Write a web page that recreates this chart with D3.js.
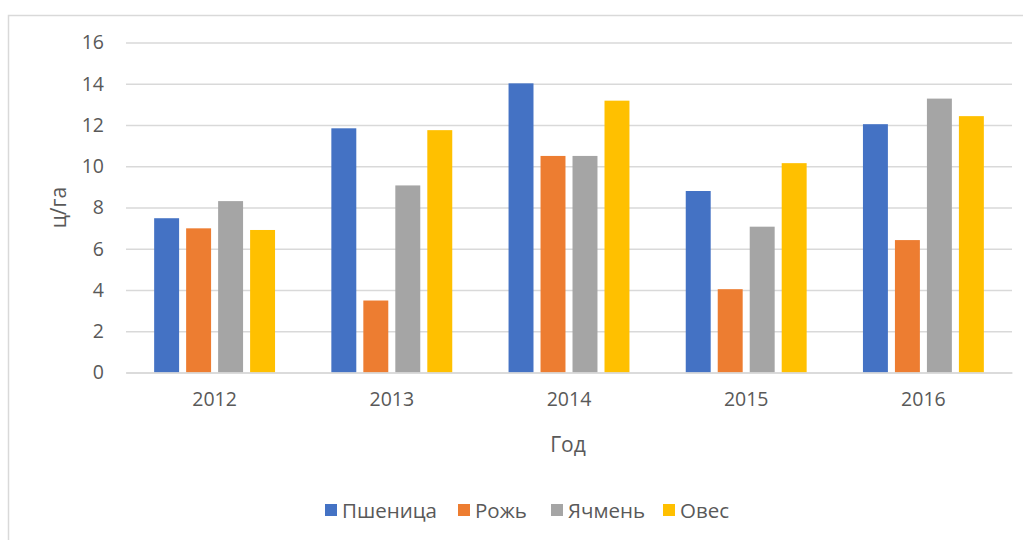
<!DOCTYPE html>
<html>
<head>
<meta charset="utf-8">
<script src="https://cdn.jsdelivr.net/npm/d3@7"></script>
<style>
  body { margin: 0; background: #fff; }
  text { font-family: "Open Sans", sans-serif; fill: #595959; }
</style>
</head>
<body>
<div id="container"></div>
<script>
/* DATA */
const years = ["2012", "2013", "2014", "2015", "2016"];
const seriesNames = ["Пшеница", "Рожь", "Ячмень", "Овес"];
const wheat  = [7.48, 11.84, 14.02, 8.8, 12.04];
const rye    = [6.99, 3.49, 10.5, 4.04, 6.42];
const barley = [8.31, 9.07, 10.5, 7.07, 13.28];
const oats   = [6.91, 11.75, 13.18, 10.15, 12.43];
const yTicks = [0, 2, 4, 6, 8, 10, 12, 14, 16];

const colors = ["#4472C4", "#ED7D31", "#A5A5A5", "#FFC000"];
const series = [wheat, rye, barley, oats];

/* CONSTANTS */
const width = 1023, height = 540,
      margin = {top: 42.5, left: 126, bottom: 167.5, right: 11};

const svg = d3.select("#container")
              .append("svg")
              .attr("width", width)
              .attr("height", height);

// chart frame
svg.append("rect")
   .attr("x", 8.5).attr("y", 15.5)
   .attr("width", width + 10).attr("height", height)
   .attr("fill", "none")
   .attr("stroke", "#d9d9d9")
   .attr("stroke-width", 1.5);

// SCALES
const xScale = d3.scaleBand()
                 .domain(years)
                 .range([margin.left, width - margin.right]);

const xInner = d3.scaleBand()
                 .domain(d3.range(seriesNames.length))
                 .range([0, xScale.bandwidth()])
                 .paddingInner(0.22)
                 .paddingOuter(0.88);

const yScale = d3.scaleLinear()
                 .domain([0, 16])
                 .range([height - margin.bottom, margin.top]);

// GRID + Y AXIS
const yAxis = d3.axisLeft(yScale)
                .tickValues(yTicks)
                .tickSize(-(width - margin.left - margin.right))
                .tickPadding(22);

svg.append("g")
   .attr("transform", `translate(${margin.left},0)`)
   .call(yAxis)
   .call(g => g.select(".domain").remove())
   .call(g => g.selectAll("line").attr("stroke", "#d9d9d9").attr("stroke-width", 1.5))
   .call(g => g.selectAll("text").attr("font-size", 19.5).attr("fill", "#595959")
                .style("font-family", "'Open Sans', sans-serif"));

// BARS
const groups = svg.selectAll("g.year")
   .data(years)
   .join("g")
   .attr("class", "year")
   .attr("transform", d => `translate(${xScale(d)},0)`);

groups.selectAll("rect")
   .data((d, i) => series.map((s, k) => ({k, v: s[i]})))
   .join("rect")
   .attr("x", d => xInner(d.k))
   .attr("width", xInner.bandwidth())
   .attr("y", d => yScale(d.v))
   .attr("height", d => yScale(0) - yScale(d.v))
   .attr("fill", d => colors[d.k]);

// X AXIS
const xAxis = d3.axisBottom(xScale).tickSize(0).tickPadding(20);
svg.append("g")
   .attr("transform", `translate(0,${height - margin.bottom})`)
   .call(xAxis)
   .call(g => g.select(".domain").attr("stroke", "#d9d9d9").attr("stroke-width", 1.5))
   .call(g => g.selectAll("text").attr("font-size", 19.5).attr("fill", "#595959")
                .style("font-family", "'Open Sans', sans-serif"));

// AXIS TITLES
svg.append("text")
   .attr("x", 568).attr("y", 452)
   .attr("text-anchor", "middle")
   .attr("font-size", 21)
   .text("Год");

svg.append("text")
   .attr("transform", `translate(66,${(yScale(0) + yScale(16)) / 2}) rotate(-90)`)
   .attr("text-anchor", "middle")
   .attr("font-size", 21)
   .text("ц/га");

// LEGEND
const legendX = [325, 458, 551, 663];
const legend = svg.selectAll("g.legend")
   .data(seriesNames)
   .join("g")
   .attr("class", "legend")
   .attr("transform", (d, i) => `translate(${legendX[i]},504)`);

legend.append("rect")
   .attr("width", 12).attr("height", 12)
   .attr("fill", (d, i) => colors[i]);

legend.append("text")
   .attr("x", 17).attr("y", 13.5)
   .attr("font-size", 20.5)
   .text(d => d);
</script>
</body>
</html>
